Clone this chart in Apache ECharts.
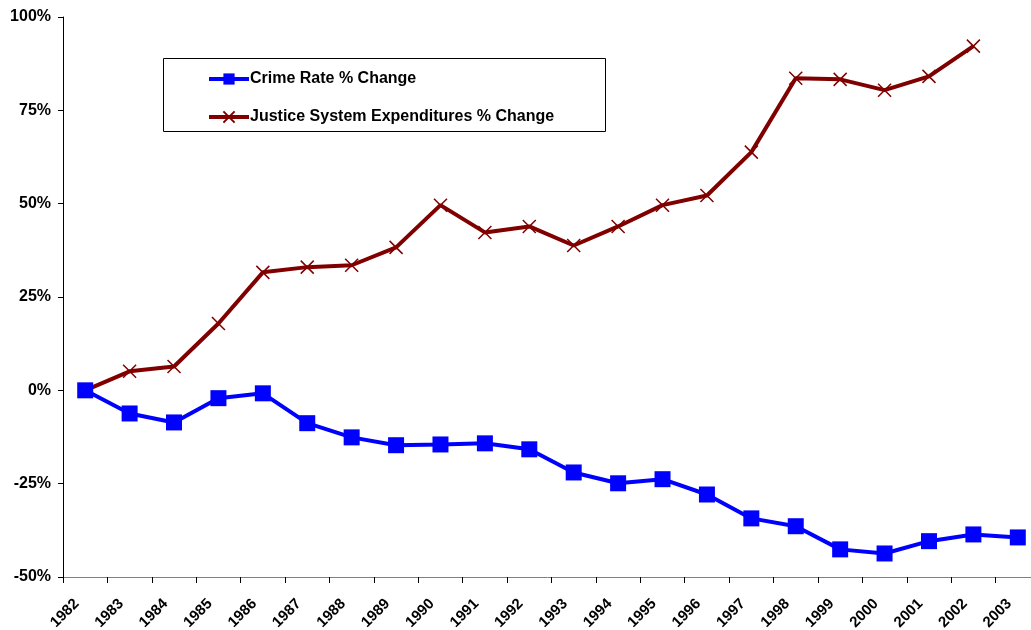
<!DOCTYPE html>
<html lang="en">
<head>
  <meta charset="UTF-8" />
  <title>Crime Rate vs Justice Expenditures</title>
  <script src="https://cdn.jsdelivr.net/npm/echarts@6.0.0/dist/echarts.min.js"></script>
  <style>
    html, body { margin: 0; padding: 0; background: #fff; }
    #chart { width: 1031px; height: 630px; }
  </style>
</head>
<body>
  <div id="chart"></div>
  <script>
    var years = ["1982", "1983", "1984", "1985", "1986", "1987", "1988", "1989", "1990", "1991", "1992",
                 "1993", "1994", "1995", "1996", "1997", "1998", "1999", "2000", "2001", "2002", "2003"];
    var crimeRate = [0, -6.2, -8.6, -2.1, -0.8, -8.8, -12.6, -14.7, -14.5, -14.2, -15.8,
                     -22.0, -24.9, -23.8, -27.9, -34.3, -36.4, -42.6, -43.7, -40.4, -38.6, -39.4];
    var justiceExp = [0, 5.1, 6.4, 17.9, 31.6, 33.0, 33.5, 38.3, 49.6, 42.3, 43.9,
                      38.8, 43.9, 49.6, 52.2, 63.8, 83.6, 83.3, 80.4, 84.1, 92.2, null];

    var font = "'Liberation Sans', Arial, sans-serif";
    var chart = echarts.init(document.getElementById("chart"));

    chart.setOption({
      animation: false,
      textStyle: { fontFamily: font },
      // the last category runs past the right edge, as in the original
      grid: { left: 63, top: 17, right: -9, bottom: 53, containLabel: false, outerBoundsMode: "none" },
      graphic: [{
        type: "rect",
        shape: { x: 163.5, y: 58.5, width: 442, height: 73 },
        style: { fill: "#fff", stroke: "#000", lineWidth: 1 },
        z: 5
      }],
      legend: {
        orient: "vertical",
        left: 202,
        top: 66,
        itemGap: 22,
        itemWidth: 40,
        itemHeight: 14,
        z: 10,
        textStyle: { fontFamily: font, fontWeight: "bold", fontSize: 16, color: "#000", padding: [0, 0, 0, -4] },
        data: [
          { name: "Crime Rate % Change", lineStyle: { width: 4 } },
          { name: "Justice System Expenditures % Change", lineStyle: { width: 4 } }
        ]
      },
      xAxis: {
        type: "category",
        data: years,
        boundaryGap: true,
        axisLine: { onZero: false, lineStyle: { color: "#808080", width: 1 } },
        axisTick: { show: true, inside: false, length: 6, lineStyle: { color: "#000" } },
        axisLabel: {
          rotate: 45, interval: 0, margin: 16, padding: [0, 12, 0, 0],
          fontFamily: font, fontWeight: "bold", fontSize: 15, color: "#000"
        },
        splitLine: { show: false }
      },
      yAxis: {
        type: "value",
        min: -50, max: 100, interval: 25,
        axisLine: { show: true, lineStyle: { color: "#000", width: 1 } },
        axisTick: { show: true, inside: false, length: 5, lineStyle: { color: "#000" } },
        axisLabel: {
          formatter: "{value}%", margin: 12,
          fontFamily: font, fontWeight: "bold", fontSize: 16, color: "#000"
        },
        splitLine: { show: false }
      },
      series: [
        {
          name: "Crime Rate % Change",
          type: "line",
          data: crimeRate,
          symbol: "rect",
          symbolSize: 16,
          lineStyle: { color: "#0000ff", width: 4 },
          itemStyle: { color: "#0000ff" },
          z: 3
        },
        {
          name: "Justice System Expenditures % Change",
          type: "line",
          data: justiceExp,
          symbol: "path://M0,0L10,10M10,0L0,10",
          symbolSize: 13,
          lineStyle: { color: "#800000", width: 4 },
          itemStyle: { color: "#800000", borderColor: "#800000", borderWidth: 1.5 },
          z: 2
        }
      ]
    });
  </script>
</body>
</html>
